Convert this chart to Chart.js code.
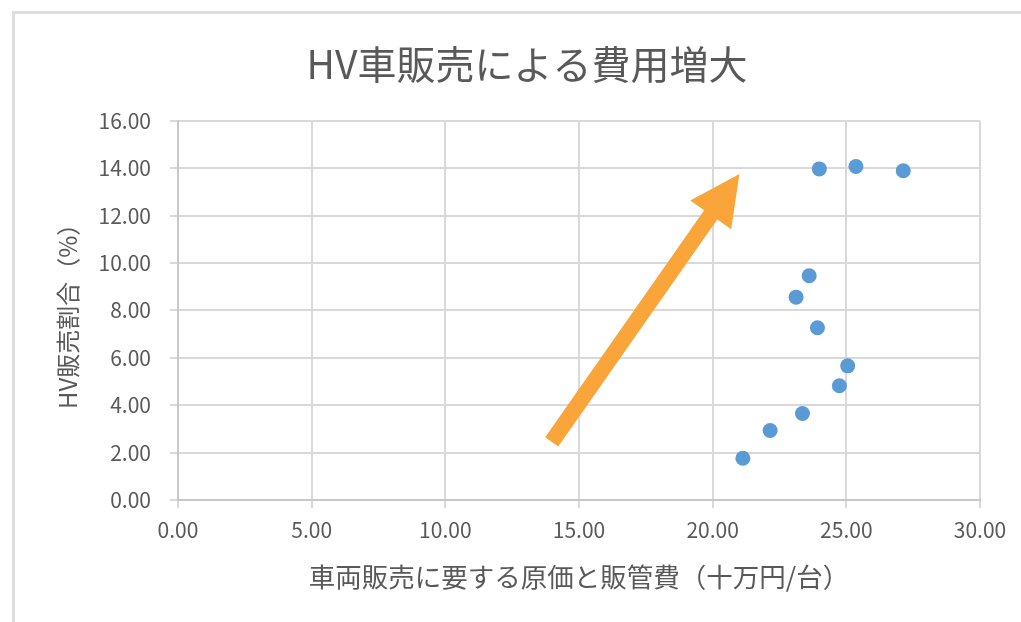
<!DOCTYPE html>
<html lang="ja">
<head>
<meta charset="utf-8">
<title>HV車販売による費用増大</title>
<script src="https://cdn.jsdelivr.net/npm/chart.js@4/dist/chart.umd.min.js"></script>
<style>
  html, body { margin: 0; padding: 0; background: #ffffff; }
  #wrap { width: 1021px; height: 622px; position: relative; }
</style>
</head>
<body>
<div id="wrap"><canvas id="chart" width="1021" height="622"></canvas></div>
<script>
// 車両販売に要する原価と販管費（十万円/台）
const costPerVehicle = [21.13, 22.15, 23.36, 24.74, 25.05, 23.92, 23.12, 23.61, 23.99, 25.36, 27.13];
// HV販売割合（%）
const hvShare = [1.76, 2.93, 3.65, 4.82, 5.66, 7.27, 8.56, 9.46, 13.97, 14.07, 13.89];
// 軸の範囲と目盛り
const xTicks = [0, 5, 10, 15, 20, 25, 30];
const yTicks = [0, 2, 4, 6, 8, 10, 12, 14, 16];
// 傾向を示す矢印（始点・終点、データ座標）
const trendArrow = [[13.98, 2.45], [21.0, 13.76]];

const titleText = 'HV車販売による費用増大';
const xTitle = '車両販売に要する原価と販管費（十万円/台）';
const yTitle = 'HV販売割合（%）';

const FONT = '"Noto Sans CJK JP", "Noto Sans", sans-serif';
const TEXT = '#595959';
const GRID = '#d9d9d9';

const points = costPerVehicle.map((x, i) => ({ x: x, y: hvShare[i] }));

// 外枠
const framePlugin = {
  id: 'frame',
  beforeDraw(chart) {
    const ctx = chart.ctx;
    ctx.save();
    ctx.fillStyle = '#ffffff';
    ctx.fillRect(0, 0, chart.width, chart.height);
    ctx.strokeStyle = '#dedede';
    ctx.lineWidth = 3;
    ctx.beginPath();
    ctx.moveTo(13.5, chart.height);
    ctx.lineTo(13.5, 12.5);
    ctx.lineTo(chart.width, 12.5);
    ctx.stroke();
    ctx.restore();
  }
};

// 矢印
const arrowPlugin = {
  id: 'trendArrow',
  afterDatasetsDraw(chart) {
    const xs = chart.scales.x, ys = chart.scales.y;
    const x1 = xs.getPixelForValue(trendArrow[0][0]);
    const y1 = ys.getPixelForValue(trendArrow[0][1]);
    const x2 = xs.getPixelForValue(trendArrow[1][0]);
    const y2 = ys.getPixelForValue(trendArrow[1][1]);
    const dx = x2 - x1, dy = y2 - y1;
    const len = Math.hypot(dx, dy);
    const ux = dx / len, uy = dy / len;
    const nx = -uy, ny = ux;
    const shaftHalf = 8, headHalf = 25, headLen = 50;
    const bx = x2 - ux * headLen, by = y2 - uy * headLen;
    const ctx = chart.ctx;
    ctx.save();
    ctx.fillStyle = '#f9a53a';
    ctx.beginPath();
    ctx.moveTo(x1 + nx * shaftHalf, y1 + ny * shaftHalf);
    ctx.lineTo(bx + nx * shaftHalf, by + ny * shaftHalf);
    ctx.lineTo(bx + nx * headHalf, by + ny * headHalf);
    ctx.lineTo(x2, y2);
    ctx.lineTo(bx - nx * headHalf, by - ny * headHalf);
    ctx.lineTo(bx - nx * shaftHalf, by - ny * shaftHalf);
    ctx.lineTo(x1 - nx * shaftHalf, y1 - ny * shaftHalf);
    ctx.closePath();
    ctx.fill();
    ctx.restore();
  }
};

new Chart(document.getElementById('chart'), {
  type: 'scatter',
  data: {
    datasets: [{
      label: 'HV販売割合',
      data: points,
      backgroundColor: '#5b9bd5',
      borderColor: '#5b9bd5',
      borderWidth: 0,
      pointRadius: 7.5,
      pointHoverRadius: 7.5
    }]
  },
  options: {
    responsive: false,
    animation: false,
    layout: { padding: { top: 0, left: 74, right: 41, bottom: 0 } },
    plugins: {
      legend: { display: false },
      tooltip: { enabled: false },
      title: {
        display: true,
        text: titleText,
        color: TEXT,
        font: { family: FONT, size: 39, weight: 'normal' },
        padding: { top: 41, bottom: 33 }
      }
    },
    scales: {
      x: {
        type: 'linear',
        min: xTicks[0],
        max: xTicks[xTicks.length - 1],
        afterBuildTicks(scale) { scale.ticks = xTicks.map(v => ({ value: v })); },
        afterFit(scale) { scale.height = 122; },
        ticks: {
          color: TEXT,
          font: { family: FONT, size: 21 },
          padding: 9,
          callback: v => Number(v).toFixed(2)
        },
        grid: { color: GRID, lineWidth: 2, tickLength: 8, tickColor: GRID, tickWidth: 2 },
        border: { color: '#c8c8c8', width: 2 },
        title: {
          display: true,
          text: xTitle,
          color: TEXT,
          font: { family: FONT, size: 26.5, weight: 'normal' },
          padding: { top: 0, bottom: 29 }
        }
      },
      y: {
        type: 'linear',
        min: yTicks[0],
        max: yTicks[yTicks.length - 1],
        afterBuildTicks(scale) { scale.ticks = yTicks.map(v => ({ value: v })); },
        afterFit(scale) { scale.width = 104; },
        ticks: {
          color: TEXT,
          font: { family: FONT, size: 21 },
          padding: 19,
          callback: v => Number(v).toFixed(2)
        },
        grid: { color: GRID, lineWidth: 2, tickLength: 8, tickColor: GRID, tickWidth: 2 },
        border: { color: '#c8c8c8', width: 2 },
        title: {
          display: true,
          text: yTitle,
          color: TEXT,
          font: { family: FONT, size: 24, weight: 'normal' },
          padding: { top: -20.5, bottom: 0 }
        }
      }
    }
  },
  plugins: [framePlugin, arrowPlugin]
});
</script>
</body>
</html>
